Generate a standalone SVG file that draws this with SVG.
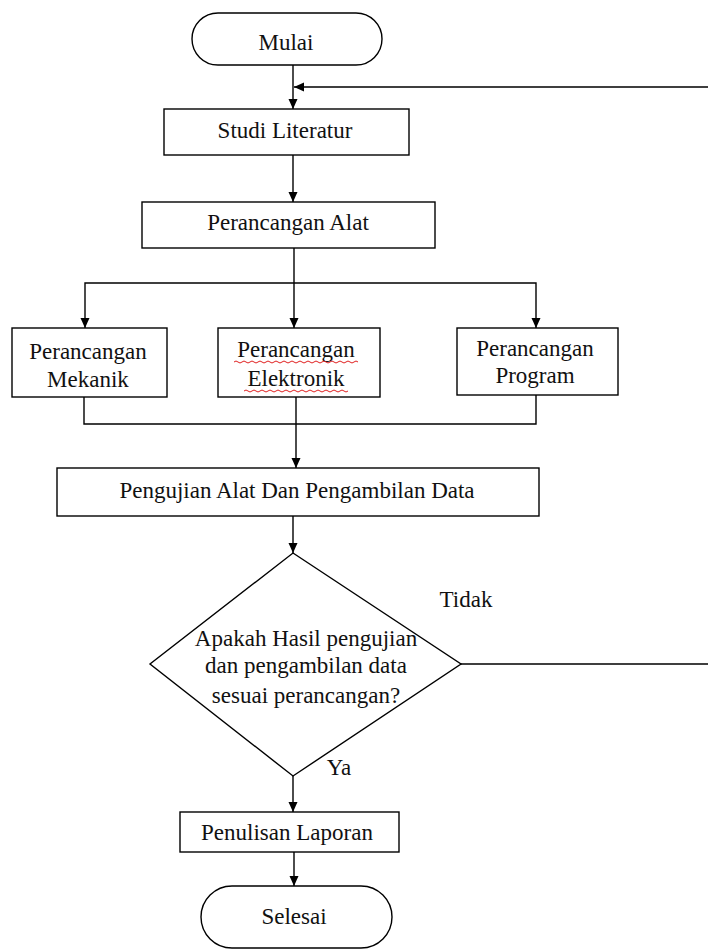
<svg xmlns="http://www.w3.org/2000/svg" width="708" height="950" viewBox="0 0 708 950">
<style>
.box{fill:#fff;stroke:#000;stroke-width:1.4}
.ln{fill:none;stroke:#000;stroke-width:1.4}
text{font-family:"Liberation Serif","Times New Roman",serif;font-size:23px;fill:#111;text-anchor:middle}
.sq{fill:none;stroke:#e02020;stroke-width:1}
</style>
<defs>
<marker id="ah" markerUnits="userSpaceOnUse" markerWidth="10" markerHeight="10" refX="10" refY="4.5" orient="auto">
<path d="M0,0 L10,4.5 L0,9 z" fill="#000"/>
</marker>
</defs>
<rect width="708" height="950" fill="#fff"/>
<g id="connectors">
<path class="ln" d="M293,65 V109" marker-end="url(#ah)"/>
<path class="ln" d="M461,664 H712 V87 H294" marker-end="url(#ah)"/>
<path class="ln" d="M293,155 V202" marker-end="url(#ah)"/>
<path class="ln" d="M294,248 V283"/>
<path class="ln" d="M294,283 H85 V328" marker-end="url(#ah)"/>
<path class="ln" d="M294,283 H536 V328" marker-end="url(#ah)"/>
<path class="ln" d="M294,283 V328" marker-end="url(#ah)"/>
<path class="ln" d="M84,397 V424 H536 V395"/>
<path class="ln" d="M296,397 V468" marker-end="url(#ah)"/>
<path class="ln" d="M293,516 V553" marker-end="url(#ah)"/>
<path class="ln" d="M293,776 V812" marker-end="url(#ah)"/>
<path class="ln" d="M294,852 V886" marker-end="url(#ah)"/>
</g>
<g id="mulai">
<rect class="box" x="192" y="13" width="190" height="52" rx="26"/>
<text x="286" y="50">Mulai</text>
</g>
<g id="studi">
<rect class="box" x="164" y="109" width="245" height="46"/>
<text x="285" y="138">Studi Literatur</text>
</g>
<g id="alat">
<rect class="box" x="142" y="202" width="293" height="46"/>
<text x="288" y="230">Perancangan Alat</text>
</g>
<g id="mekanik">
<rect class="box" x="12" y="328" width="155" height="69"/>
<text x="88" y="359">Perancangan</text>
<text x="88" y="387">Mekanik</text>
</g>
<g id="elektronik">
<rect class="box" x="218" y="328" width="162" height="69"/>
<text x="296" y="357">Perancangan</text>
<text x="296" y="386">Elektronik</text>
<path class="sq" d="M234,362 q2,-2 4,0 t4,0 t4,0 t4,0 t4,0 t4,0 t4,0 t4,0 t4,0 t4,0 t4,0 t4,0 t4,0 t4,0 t4,0 t4,0 t4,0 t4,0 t4,0 t4,0 t4,0 t4,0 t4,0 t4,0 t4,0 t4,0 t4,0 t4,0 t4,0 t4,0 t4,0"/>
<path class="sq" d="M244,391 q2,-2 4,0 t4,0 t4,0 t4,0 t4,0 t4,0 t4,0 t4,0 t4,0 t4,0 t4,0 t4,0 t4,0 t4,0 t4,0 t4,0 t4,0 t4,0 t4,0 t4,0 t4,0 t4,0 t4,0 t4,0 t4,0 t4,0"/>
</g>
<g id="program">
<rect class="box" x="457" y="328" width="161" height="67"/>
<text x="535" y="356">Perancangan</text>
<text x="535" y="383">Program</text>
</g>
<g id="pengujian">
<rect class="box" x="57" y="468" width="482" height="48"/>
<text x="297" y="498">Pengujian Alat Dan Pengambilan Data</text>
</g>
<g id="keputusan">
<polygon class="box" points="293,553 461,664 293,776 150,664"/>
<text x="306" y="646">Apakah Hasil pengujian</text>
<text x="306" y="673">dan pengambilan data</text>
<text x="306" y="703">sesuai perancangan?</text>
</g>
<g id="labels">
<text x="466" y="607">Tidak</text>
<text x="339" y="775">Ya</text>
</g>
<g id="laporan">
<rect class="box" x="180" y="812" width="219" height="40"/>
<text x="287" y="840">Penulisan Laporan</text>
</g>
<g id="selesai">
<rect class="box" x="201" y="886" width="191" height="62" rx="31"/>
<text x="294" y="924">Selesai</text>
</g>
</svg>
